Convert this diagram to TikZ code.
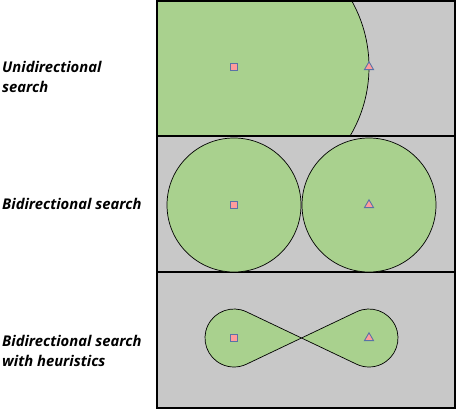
\documentclass[tikz,border=0pt]{standalone}
\usepackage{fontspec}
\setmainfont{Open Sans}
\usetikzlibrary{shapes.geometric}
\definecolor{fieldgray}{HTML}{C8C8C8}
\definecolor{reachgreen}{HTML}{A9D18E}
\definecolor{markpink}{HTML}{FF9C9C}
\definecolor{markblue}{HTML}{5A72A6}
\begin{document}
\begin{tikzpicture}[x=1pt,y=1pt,
      panel/.style={draw=black,line width=2pt,fill=fieldgray},
      blob/.style={draw=black,line width=0.7pt,fill=reachgreen},
      start/.style={rectangle,draw=markblue,fill=markpink,line width=0.9pt,minimum size=7.5pt,inner sep=0pt},
      goal/.style={regular polygon,regular polygon sides=3,draw=markblue,fill=markpink,line width=0.9pt,minimum size=10.5pt,inner sep=0pt},
      lbl/.style={anchor=west,align=left,font=\bfseries\itshape\fontsize{14.8}{20.5}\selectfont,inner sep=0pt}]
    \useasboundingbox (0,0) rectangle (457,410);
    % panels
    \draw[panel] (157,274) rectangle (455,409);
    \draw[panel] (157,138) rectangle (455,274);
    \draw[panel] (157,2) rectangle (455,138);
    % unidirectional
    \begin{scope}
      \clip (157,274) rectangle (455,409);
      \draw[blob] (234,343) circle[radius=135pt];
    \end{scope}
    \draw[panel,fill=none] (157,274) rectangle (455,409);
    % bidirectional
    \draw[blob] (234,205) circle[radius=67pt];
    \draw[blob] (369,205) circle[radius=67pt];
    % with heuristics
    \coordinate (lc) at (234,72);
    \coordinate (rc) at (369,72);
    \coordinate (mid) at (301.5,72);
    \draw[blob] (mid) -- ([shift={(64.56:29pt)}]lc) arc[start angle=64.56,end angle=295.44,radius=29pt] -- (mid)
      -- ([shift={(115.44:29pt)}]rc) arc[start angle=115.44,end angle=-115.44,radius=29pt] -- cycle;
    % markers
    \node[start] (s1) at (234,343) {};
    \node[goal] (g1) at (369,343) {};
    \node[start] (s2) at (234,205) {};
    \node[goal] (g2) at (369,205) {};
    \node[start] (s3) at (234,72) {};
    \node[goal] (g3) at (369,72) {};
    % labels
    \node[lbl] (uni) at (2,333) {Unidirectional\\search};
    \node[lbl] (bi) at (2,206) {Bidirectional search};
    \node[lbl] (heur) at (2,59) {Bidirectional search\\with heuristics};
\end{tikzpicture}
\end{document}
